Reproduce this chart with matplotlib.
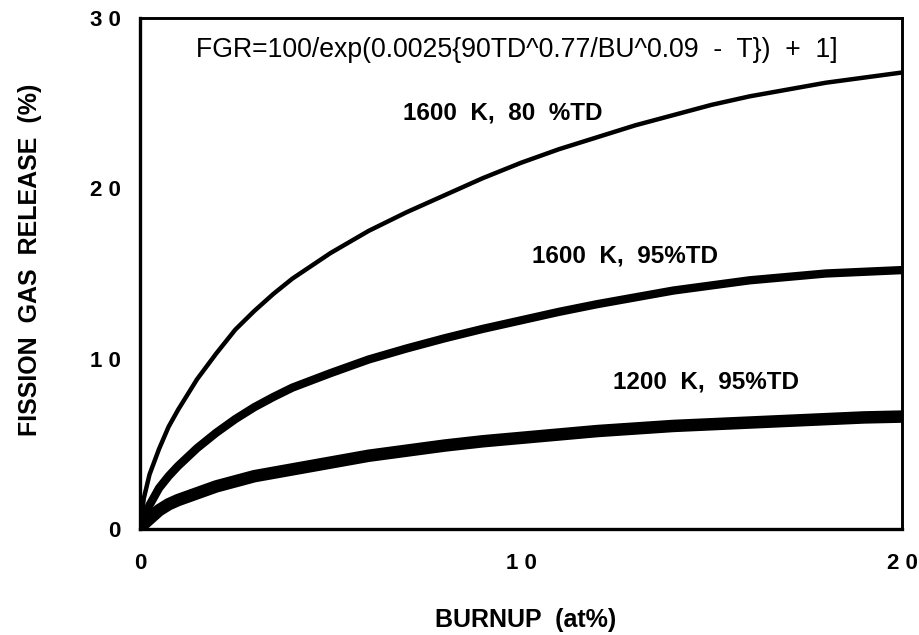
import numpy as np
import matplotlib
matplotlib.use("Agg")
import matplotlib.pyplot as plt

plt.rcParams['font.family'] = ['Liberation Sans', 'DejaVu Sans']

# values
burnup = [0, 0.1, 0.25, 0.5, 0.75, 1, 1.5, 2, 2.5, 3, 3.5, 4, 5, 6, 7, 8, 9, 10,
          11, 12, 13, 14, 15, 16, 17, 18, 19, 20]
fgr_1600_80 = [0, 1.8, 3.2, 4.7, 6.0, 7.0, 8.8, 10.3, 11.7, 12.8, 13.8, 14.7, 16.2, 17.5,
               18.6, 19.6, 20.6, 21.5, 22.3, 23.0, 23.7, 24.3, 24.9, 25.4, 25.8, 26.2, 26.5, 26.8]
fgr_1600_95 = [0, 0.6, 1.4, 2.4, 3.1, 3.7, 4.75, 5.65, 6.45, 7.15, 7.75, 8.3, 9.15, 9.95,
               10.6, 11.2, 11.75, 12.25, 12.75, 13.2, 13.6, 14.0, 14.3, 14.6, 14.8, 15.0, 15.1, 15.2]
fgr_1200_95 = [0, 0.3, 0.6, 1.1, 1.45, 1.7, 2.1, 2.5, 2.8, 3.1, 3.3, 3.5, 3.9, 4.3,
               4.6, 4.9, 5.15, 5.35, 5.55, 5.75, 5.9, 6.05, 6.15, 6.25, 6.35, 6.45, 6.55, 6.6]

labels = ['1600  K,  80  %TD', '1600  K,  95%TD', '1200  K,  95%TD']
formula = 'FGR=100/exp(0.0025{90TD^0.77/BU^0.09  -  T})  +  1]'

fig = plt.figure(figsize=(9.19, 6.35), dpi=100)
ax = fig.add_axes([140/919, 1 - 529/635, 762/919, 511/635])

ax.plot(burnup, fgr_1600_80, color='black', lw=3.2, solid_capstyle='round')
ax.plot(burnup, fgr_1600_95, color='black', lw=6.0, solid_capstyle='round')
ax.plot(burnup, fgr_1200_95, color='black', lw=9.0, solid_capstyle='round')

ax.set_xlim(0, 20)
ax.set_ylim(0, 30)
ax.set_xticks([0, 10, 20])
ax.set_yticks([0, 10, 20, 30])
ax.set_xticklabels(['0', '1 0', '2 0'], fontsize=16, fontweight='bold')
ax.set_yticklabels(['0', '1 0', '2 0', '3 0'], fontsize=16, fontweight='bold')
ax.tick_params(length=0, pad=14)
ax.tick_params(axis='x', pad=17)
for s in ['left', 'bottom']:
    ax.spines[s].set_linewidth(2.4)
for s in ['right', 'top']:
    ax.spines[s].set_linewidth(2.1)

ax.text(1.47, 28.1, formula, fontsize=19.2, va='center', ha='left')
ax.text(6.9, 24.4, labels[0], fontsize=17.5, fontweight='bold', va='center')
ax.text(10.29, 16.03, labels[1], fontsize=17.5, fontweight='bold', va='center')
ax.text(12.41, 8.63, labels[2], fontsize=17.5, fontweight='bold', va='center')

fig.text(526/919, 1 - 620/635, 'BURNUP  (at%)', fontsize=18, fontweight='bold',
         ha='center', va='center')
fig.text(30/919, 1 - 260/635, 'FISSION  GAS  RELEASE  (%)', fontsize=18, fontweight='bold',
         ha='center', va='center', rotation=90)

fig.savefig('out.png', dpi=100)
